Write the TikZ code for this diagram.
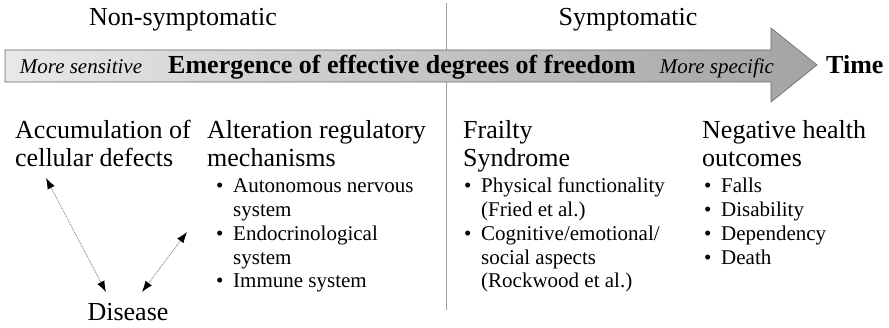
\documentclass[tikz,border=0pt]{standalone}
\usepackage{fontspec}
\setmainfont{Liberation Serif}
\usetikzlibrary{arrows.meta,calc,positioning}
\newcommand{\hdfont}{\fontsize{26}{27.5}\selectfont}
\newcommand{\lsfont}{\fontsize{21}{23.7}\selectfont}
\newcommand{\blist}[1]{\begin{tabular}[t]{@{}p{17pt}@{}l@{}}#1\end{tabular}}
\newcommand{\bi}{\textbullet}

\begin{document}
\begin{tikzpicture}[x=1pt,y=-1pt]
  \useasboundingbox (0,0) rectangle (889,328);
  % phase divider, behind the arrow
  \draw[gray!75,line width=1pt] (446,3) -- (446,310);
  \shade[left color=gray!18,right color=gray!72,draw=gray!80!black,line width=0.6pt]
    (5,50) -- (771,50) -- (771,28) -- (817,65) -- (771,102) -- (771,82) -- (5,82) -- cycle;
  \begin{scope}[every node/.style={inner sep=0,anchor=base}]
    \node(nonsym) at (183,26) {\hdfont Non-symptomatic};
    \node(sym) at (628,26) {\hdfont Symptomatic};
    \node(sens) at (81,74) {\lsfont\itshape More sensitive};
    \node(emerg) at (402,74) {\hdfont\bfseries Emergence of effective degrees of freedom};
    \node(spec) at (717,74) {\lsfont\itshape More specific};
    \node[anchor=base west](time) at (826,74) {\hdfont\bfseries Time};
  \end{scope}
  % base anchor sits on the second line here
  \begin{scope}[every node/.style={inner sep=0,anchor=base west,align=left,font=\hdfont}]
    \node(acc) at (15,166.5) {Accumulation of\\cellular defects};
    \node(alt) at (207,166.5) {Alteration regulatory\\mechanisms};
    \node(frail) at (463,166.5) {Frailty\\Syndrome};
    \node(neg) at (702,166.5) {Negative health\\outcomes};
    \node[anchor=base](dis) at (128,321) {Disease};
  \end{scope}
  \begin{scope}[every node/.style={inner sep=0,anchor=base west,font=\lsfont}]
    \node(altlist) at (216,193) {\blist{\bi & Autonomous nervous\\ & system\\
      \bi & Endocrinological\\ & system\\ \bi & Immune system}};
    \node(fraillist) at (464,193) {\blist{\bi & Physical functionality\\ & (Fried et al.)\\
      \bi & Cognitive/emotional/\\ & social aspects\\ & (Rockwood et al.)}};
    \node(neglist) at (704,193) {\blist{\bi & Falls\\ \bi & Disability\\
      \bi & Dependency\\ \bi & Death}};
  \end{scope}
  \begin{scope}[every path/.style={draw,gray!90,line width=0.8pt,dash pattern=on 1pt off 0.8pt,
      >={Latex[color=black,length=11pt,width=8pt]}}]
    \path[<->] ($(acc.base west)+(31,11.5)$) -- ($(dis.base)+(-22,-29)$);
    \path[<->] ($(dis.base)+(14,-29)$) -- ($(altlist.base west)+(-29,39)$);
  \end{scope}
\end{tikzpicture}
\end{document}
